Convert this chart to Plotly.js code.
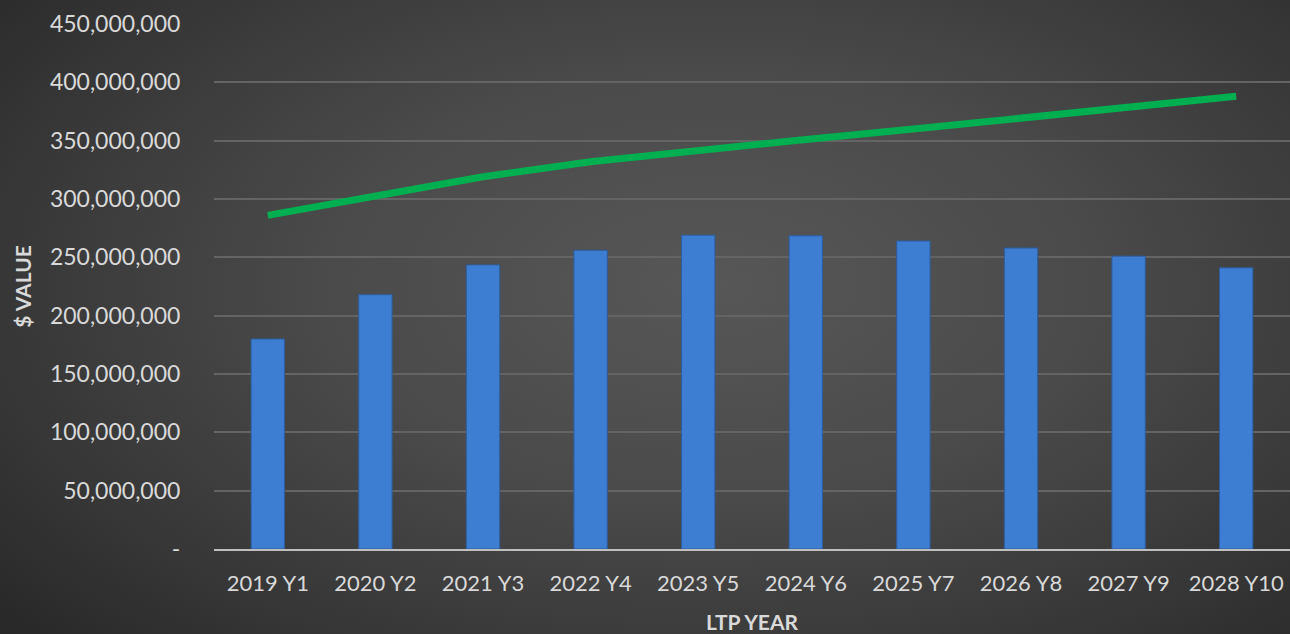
<!DOCTYPE html>
<html>
<head>
<meta charset="utf-8">
<script src="https://cdn.plot.ly/plotly-3.0.1.min.js"></script>
<style>
  html, body { margin: 0; padding: 0; }
  #chart {
    width: 1290px; height: 634px;
    background: radial-gradient(ellipse 75% 85% at 55% 45%, #575757 0%, #4a4a4a 40%, #363636 75%, #262626 100%);
  }
</style>
</head>
<body>
<div id="chart"></div>
<script>
const categories = ["2019 Y1","2020 Y2","2021 Y3","2022 Y4","2023 Y5","2024 Y6","2025 Y7","2026 Y8","2027 Y9","2028 Y10"];
const barValues  = [180000000, 218000000, 243500000, 256000000, 269000000, 268500000, 264000000, 258000000, 251000000, 241000000];
const lineValues = [286000000, 302500000, 319000000, 332000000, 342000000, 351000000, 360000000, 369500000, 379000000, 388000000];
const yTickVals  = [0, 50000000, 100000000, 150000000, 200000000, 250000000, 300000000, 350000000, 400000000, 450000000];
const yTickText  = ["-", "50,000,000", "100,000,000", "150,000,000", "200,000,000", "250,000,000", "300,000,000", "350,000,000", "400,000,000", "450,000,000"];

const textColor = "#d9d9d9";
const fontFam = "Lato, 'Open Sans', sans-serif";

const traces = [
  {
    type: "bar",
    x: categories,
    y: barValues,
    width: 0.31,
    marker: { color: "#3d7dd2", line: { color: "#2c5d9e", width: 1 } },
    hoverinfo: "x+y"
  },
  {
    type: "scatter",
    mode: "lines",
    x: categories,
    y: lineValues,
    line: { color: "#00b050", width: 7 },
    hoverinfo: "x+y"
  }
];

const layout = {
  width: 1290, height: 634,
  paper_bgcolor: "rgba(0,0,0,0)",
  plot_bgcolor: "rgba(0,0,0,0)",
  margin: { l: 214, r: 0, t: 24, b: 85 },
  showlegend: false,
  font: { family: fontFam, color: textColor, size: 22 },
  xaxis: {
    type: "category",
    showgrid: false,
    showline: true,
    linecolor: "#bfbfbf",
    linewidth: 2,
    ticks: "outside",
    ticklen: 14,
    tickcolor: "rgba(0,0,0,0)",
    tickfont: { family: fontFam, color: textColor, size: 22 },
    title: { text: "<b>LTP YEAR</b>", font: { family: fontFam, color: textColor, size: 21 }, standoff: 21 },
    automargin: false
  },
  yaxis: {
    range: [0, 450000000],
    tickvals: yTickVals,
    ticktext: yTickText,
    showgrid: true,
    gridcolor: "#646464",
    gridwidth: 1.5,
    zeroline: false,
    showline: false,
    ticks: "outside",
    ticklen: 28,
    tickcolor: "rgba(0,0,0,0)",
    tickfont: { family: fontFam, color: textColor, size: 23 },
    title: { text: "<b>$ VALUE</b>", font: { family: fontFam, color: textColor, size: 21 }, standoff: 12 },
    automargin: false
  }
};

Plotly.newPlot("chart", traces, layout, { displayModeBar: false, staticPlot: false });
</script>
</body>
</html>
